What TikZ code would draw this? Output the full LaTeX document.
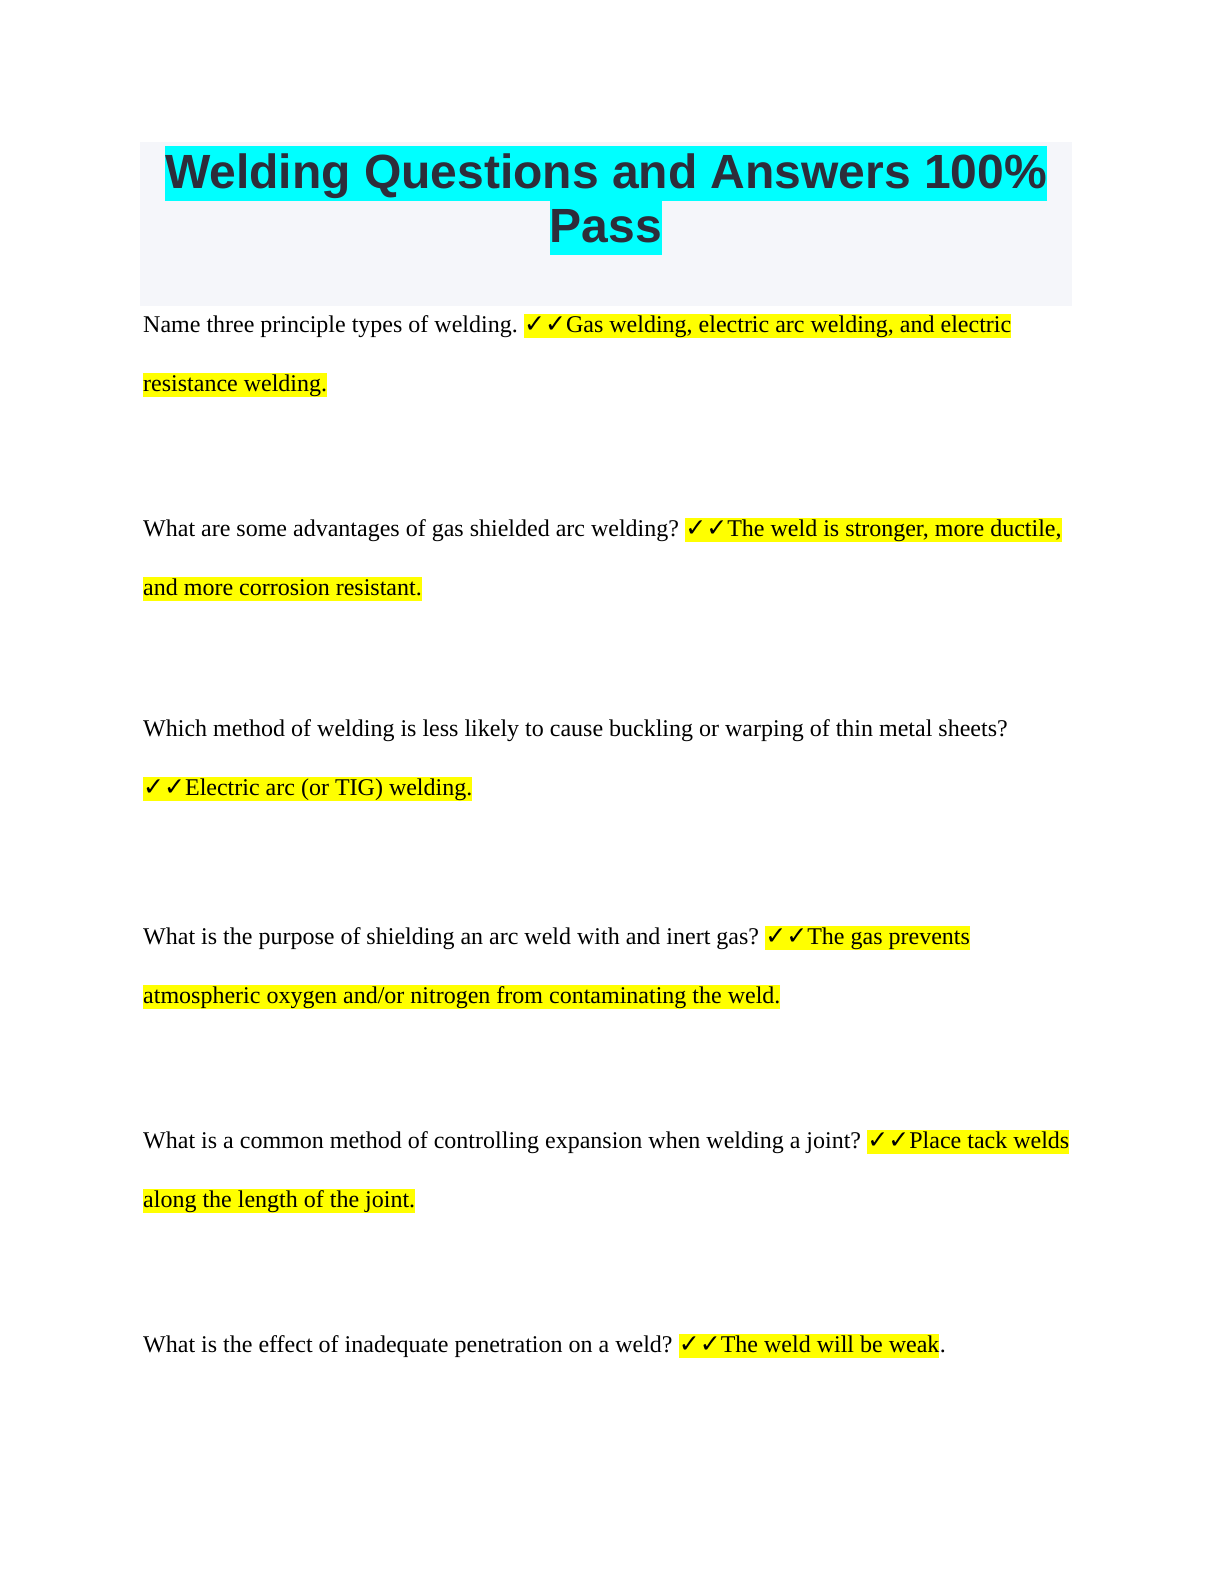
\documentclass[tikz,border=0pt]{standalone}
\usepackage{fontspec}
\setmainfont{Liberation Serif}
\newfontfamily\titlefont{Liberation Sans}
\newfontfamily\symfont{DejaVu Sans}
\definecolor{hlyellow}{RGB}{255,255,0}
\definecolor{hlcyan}{RGB}{0,255,255}
\definecolor{boxgrey}{RGB}{245,246,250}
\definecolor{titletext}{RGB}{45,45,58}
\tikzset{
  qtext/.style={anchor=base west,inner sep=0pt,font=\fontsize{24}{28}\selectfont},
  ans/.style={qtext,fill=hlyellow,text height=18pt,text depth=6pt},
  ttl/.style={anchor=base,inner sep=0pt,fill=hlcyan,text=titletext,text height=42pt,text depth=13pt,font=\titlefont\bfseries\fontsize{48}{54}\selectfont}
}
\newcommand{\ck}{{\symfont\bfseries\fontsize{25}{28}\selectfont ✓✓}}
\begin{document}
\begin{tikzpicture}[x=1pt,y=1pt]
\useasboundingbox (0,0) rectangle (1224,-1584);
\fill[boxgrey] (140,-142) rectangle (1072,-306);
\node[ttl] (t1) at (606,-188) {Welding Questions and Answers 100\%};
\node[ttl] (t2) at (606,-242) {Pass};

\node[qtext] (q1) at (143,-332) {Name three principle types of welding.};
\node[ans,xshift=6pt] (a1) at (q1.base east) {\ck Gas welding, electric arc welding, and electric};
\node[ans] (a1b) at (143,-391) {resistance welding.};

\node[qtext] (q2) at (143,-536) {What are some advantages of gas shielded arc welding?};
\node[ans,xshift=6pt] (a2) at (q2.base east) {\ck The weld is stronger, more ductile,};
\node[ans] (a2b) at (143,-595) {and more corrosion resistant.};

\node[qtext] (q3) at (143,-736) {Which method of welding is less likely to cause buckling or warping of thin metal sheets?};
\node[ans] (a3) at (143,-795) {\ck Electric arc (or TIG) welding.};

\node[qtext] (q4) at (143,-944) {What is the purpose of shielding an arc weld with and inert gas?};
\node[ans,xshift=6pt] (a4) at (q4.base east) {\ck The gas prevents};
\node[ans] (a4b) at (143,-1003) {atmospheric oxygen and/or nitrogen from contaminating the weld.};

\node[qtext] (q5) at (143,-1148) {What is a common method of controlling expansion when welding a joint?};
\node[ans,xshift=6pt] (a5) at (q5.base east) {\ck Place tack welds};
\node[ans] (a5b) at (143,-1207) {along the length of the joint.};

\node[qtext] (q6) at (143,-1352) {What is the effect of inadequate penetration on a weld?};
\node[ans,xshift=6pt] (a6) at (q6.base east) {\ck The weld will be weak};
\node[qtext] (p6) at (a6.base east) {.};
\end{tikzpicture}
\end{document}
